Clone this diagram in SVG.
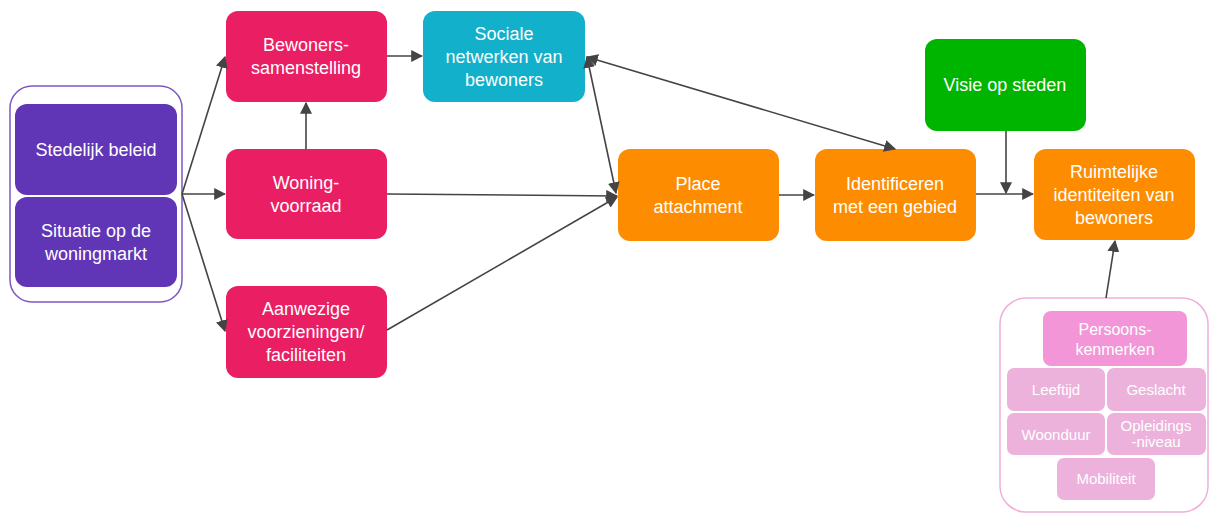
<svg xmlns="http://www.w3.org/2000/svg" width="1210" height="514" viewBox="0 0 1210 514">
<style>
text{font-family:"Liberation Sans",Arial,sans-serif;fill:#fff;text-anchor:middle}
.t{font-size:18px}
.s{font-size:15px}
.m{font-size:16px}
.pu{fill:#6136b6}
.pk{fill:#e91e63}
.cy{fill:#12b0cb}
.or{fill:#fd8c00}
.gr{fill:#00b500}
.p1{fill:#f296d8}
.p2{fill:#edb2dc}
.c line{stroke:#444;stroke-width:1.6}
</style>
<defs>
<marker id="a" viewBox="0 0 10 10" refX="9" refY="5" markerWidth="12" markerHeight="12" markerUnits="userSpaceOnUse" orient="auto-start-reverse">
<path d="M0,0 L10,5 L0,10 z" fill="#444"/>
</marker>
</defs>
<g id="grp-left">
<rect x="10" y="86" width="172" height="216" rx="22" fill="#fff" stroke="#7e57c2" stroke-width="1.5"/>
</g>
<g id="n-stedelijk"><rect class="pu" x="15" y="104" width="162" height="91" rx="12"/><text class="t" x="96" y="156">Stedelijk beleid</text></g>
<g id="n-situatie"><rect class="pu" x="15" y="197" width="162" height="90" rx="12"/><text class="t" x="96" y="237">Situatie op de</text><text class="t" x="96" y="260">woningmarkt</text></g>
<g id="n-bewoners"><rect class="pk" x="226" y="11" width="161" height="91" rx="12"/><text class="t" x="306" y="51">Bewoners-</text><text class="t" x="306" y="74">samenstelling</text></g>
<g id="n-woning"><rect class="pk" x="226" y="149" width="161" height="90" rx="12"/><text class="t" x="306" y="189">Woning-</text><text class="t" x="306" y="212">voorraad</text></g>
<g id="n-aanwezige"><rect class="pk" x="226" y="286" width="161" height="92" rx="12"/><text class="t" x="306" y="315">Aanwezige</text><text class="t" x="306" y="338">voorzieningen/</text><text class="t" x="306" y="361">faciliteiten</text></g>
<g id="n-sociale"><rect class="cy" x="423" y="11" width="162" height="91" rx="12"/><text class="t" x="504" y="40">Sociale</text><text class="t" x="504" y="63">netwerken van</text><text class="t" x="504" y="86">bewoners</text></g>
<g id="n-place"><rect class="or" x="618" y="149" width="161" height="92" rx="12"/><text class="t" x="698" y="190">Place</text><text class="t" x="698" y="213">attachment</text></g>
<g id="n-ident"><rect class="or" x="815" y="149" width="161" height="92" rx="12"/><text class="t" x="895" y="190">Identificeren</text><text class="t" x="895" y="213">met een gebied</text></g>
<g id="n-visie"><rect class="gr" x="925" y="39" width="161" height="92" rx="12"/><text class="t" x="1005" y="91">Visie op steden</text></g>
<g id="n-ruimtelijke"><rect class="or" x="1034" y="149" width="161" height="91" rx="12"/><text class="t" x="1114" y="178">Ruimtelijke</text><text class="t" x="1114" y="201">identiteiten van</text><text class="t" x="1114" y="224">bewoners</text></g>
<g id="grp-persoon">
<rect x="1000" y="298" width="208" height="214" rx="26" fill="#fff" stroke="#f0b0dc" stroke-width="1.5"/>
</g>
<g id="n-persoons"><rect class="p1" x="1043" y="311" width="144" height="55" rx="8"/><text class="m" x="1115" y="335">Persoons-</text><text class="m" x="1115" y="355">kenmerken</text></g>
<g id="n-leeftijd"><rect class="p2" x="1007" y="368" width="98" height="43" rx="7"/><text class="s" x="1056" y="395">Leeftijd</text></g>
<g id="n-geslacht"><rect class="p2" x="1107" y="368" width="99" height="43" rx="7"/><text class="s" x="1156" y="395">Geslacht</text></g>
<g id="n-woonduur"><rect class="p2" x="1007" y="413" width="98" height="42" rx="7"/><text class="s" x="1056" y="440">Woonduur</text></g>
<g id="n-opleidings"><rect class="p2" x="1107" y="413" width="99" height="42" rx="7"/><text class="s" x="1156" y="431">Opleidings</text><text class="s" x="1156" y="447">-niveau</text></g>
<g id="n-mobiliteit"><rect class="p2" x="1057" y="458" width="98" height="42" rx="7"/><text class="s" x="1106" y="484">Mobiliteit</text></g>
<g id="connectors" class="c">
<line x1="182" y1="194" x2="225" y2="57" marker-end="url(#a)"/>
<line x1="182" y1="194" x2="225" y2="194" marker-end="url(#a)"/>
<line x1="182" y1="194" x2="225" y2="331" marker-end="url(#a)"/>
<line x1="387" y1="56" x2="422" y2="56" marker-end="url(#a)"/>
<line x1="306" y1="149" x2="306" y2="103" marker-end="url(#a)"/>
<line x1="387" y1="194" x2="617" y2="196" marker-end="url(#a)"/>
<line x1="387" y1="330" x2="617" y2="197" marker-end="url(#a)"/>
<line x1="587" y1="57" x2="616" y2="193" marker-start="url(#a)" marker-end="url(#a)"/>
<line x1="587" y1="57" x2="895" y2="149" marker-start="url(#a)" marker-end="url(#a)"/>
<line x1="779" y1="195" x2="814" y2="195" marker-end="url(#a)"/>
<line x1="976" y1="194" x2="1033" y2="194" marker-end="url(#a)"/>
<line x1="1006" y1="131" x2="1006" y2="193" marker-end="url(#a)"/>
<line x1="1106" y1="298" x2="1115" y2="241" marker-end="url(#a)"/>
</g>
</svg>
